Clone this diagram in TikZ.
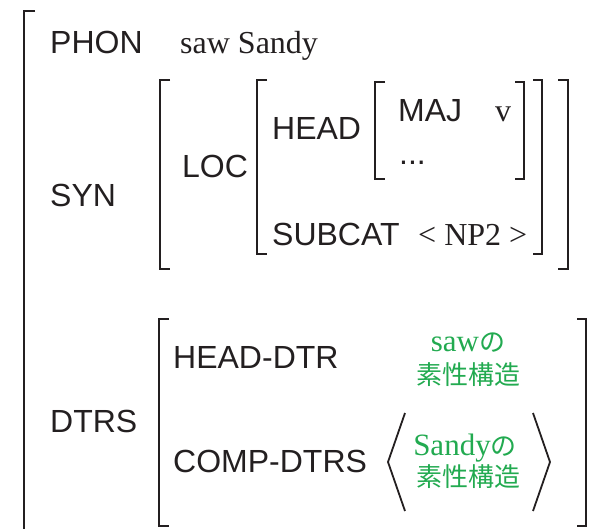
\documentclass[tikz,border=0pt]{standalone}
\usepackage{fontspec}
\setmainfont{Liberation Serif}
\newfontfamily\hv{Liberation Sans}
\newfontfamily\jp{Noto Sans CJK JP}
\definecolor{ink}{RGB}{35,31,32}
\definecolor{grn}{RGB}{34,170,80}
\begin{document}
\begin{tikzpicture}[x=1pt,y=-1pt,
  attr/.style={anchor=base west,inner sep=0pt,font=\hv\fontsize{32}{38}\selectfont,text=ink},
  val/.style={anchor=base west,inner sep=0pt,font=\fontsize{32}{38}\selectfont,text=ink},
  gval/.style={anchor=base,inner sep=0pt,font=\fontsize{31}{36}\selectfont,text=grn},
  jval/.style={anchor=base,inner sep=0pt,font=\jp\fontsize{26}{30}\selectfont,text=grn},
  brk/.style={draw=ink,line width=1.8pt,line cap=butt,line join=miter}]
\useasboundingbox (0,0) rectangle (599,529);
% outer bracket
\draw[brk] (35,11) -- (24,11) -- (24,531);
% labels
\node[attr] (phon) at (50,54) {PHON};
\node[val] (phonv) at (180,54) {saw Sandy};
\node[attr] (syn) at (50,207) {SYN};
\node[attr] (loc) at (182,178) {LOC};
\node[attr] (head) at (272,140) {HEAD};
\node[attr] (maj) at (398,122) {MAJ};
\node[val] (majv) at (495,122) {v};
\node[attr] (dots) at (399,165) {...};
\node[attr] (subcat) at (272,246) {SUBCAT};
\node[val] (subcatv) at (418,246) {< NP2 >};
\node[attr] (dtrs) at (50,432) {DTRS};
\node[attr] (hdtr) at (173,368) {HEAD-DTR};
\node[attr] (cdtrs) at (173,472) {COMP-DTRS};
\node[gval] (hv1) at (468,351) {saw\jp\fontsize{26}{30}\selectfont の};
\node[jval] (hv2) at (468,384) {素性構造};
\node[gval] (cv1) at (465,455) {Sandy\jp\fontsize{26}{30}\selectfont の};
\node[jval] (cv2) at (468,486) {素性構造};
% SYN brackets
\draw[brk] (170,80) -- (160,80) -- (160,269) -- (170,269);
\draw[brk] (558,80) -- (568,80) -- (568,269) -- (558,269);
% LOC brackets
\draw[brk] (267,80) -- (257,80) -- (257,254) -- (267,254);
\draw[brk] (533,80) -- (542,80) -- (542,254) -- (533,254);
% HEAD brackets
\draw[brk] (385,82) -- (375,82) -- (375,179) -- (385,179);
\draw[brk] (515,82) -- (524,82) -- (524,179) -- (515,179);
% DTRS brackets
\draw[brk] (169,319) -- (159,319) -- (159,526) -- (169,526);
\draw[brk] (577,319) -- (586,319) -- (586,526) -- (577,526);
% angle brackets
\draw[draw=ink,line width=1.8pt,line join=miter] (405,413) -- (388,462) -- (405,511);
\draw[draw=ink,line width=1.8pt,line join=miter] (533,413) -- (550,462) -- (533,511);
\end{tikzpicture}
\end{document}
